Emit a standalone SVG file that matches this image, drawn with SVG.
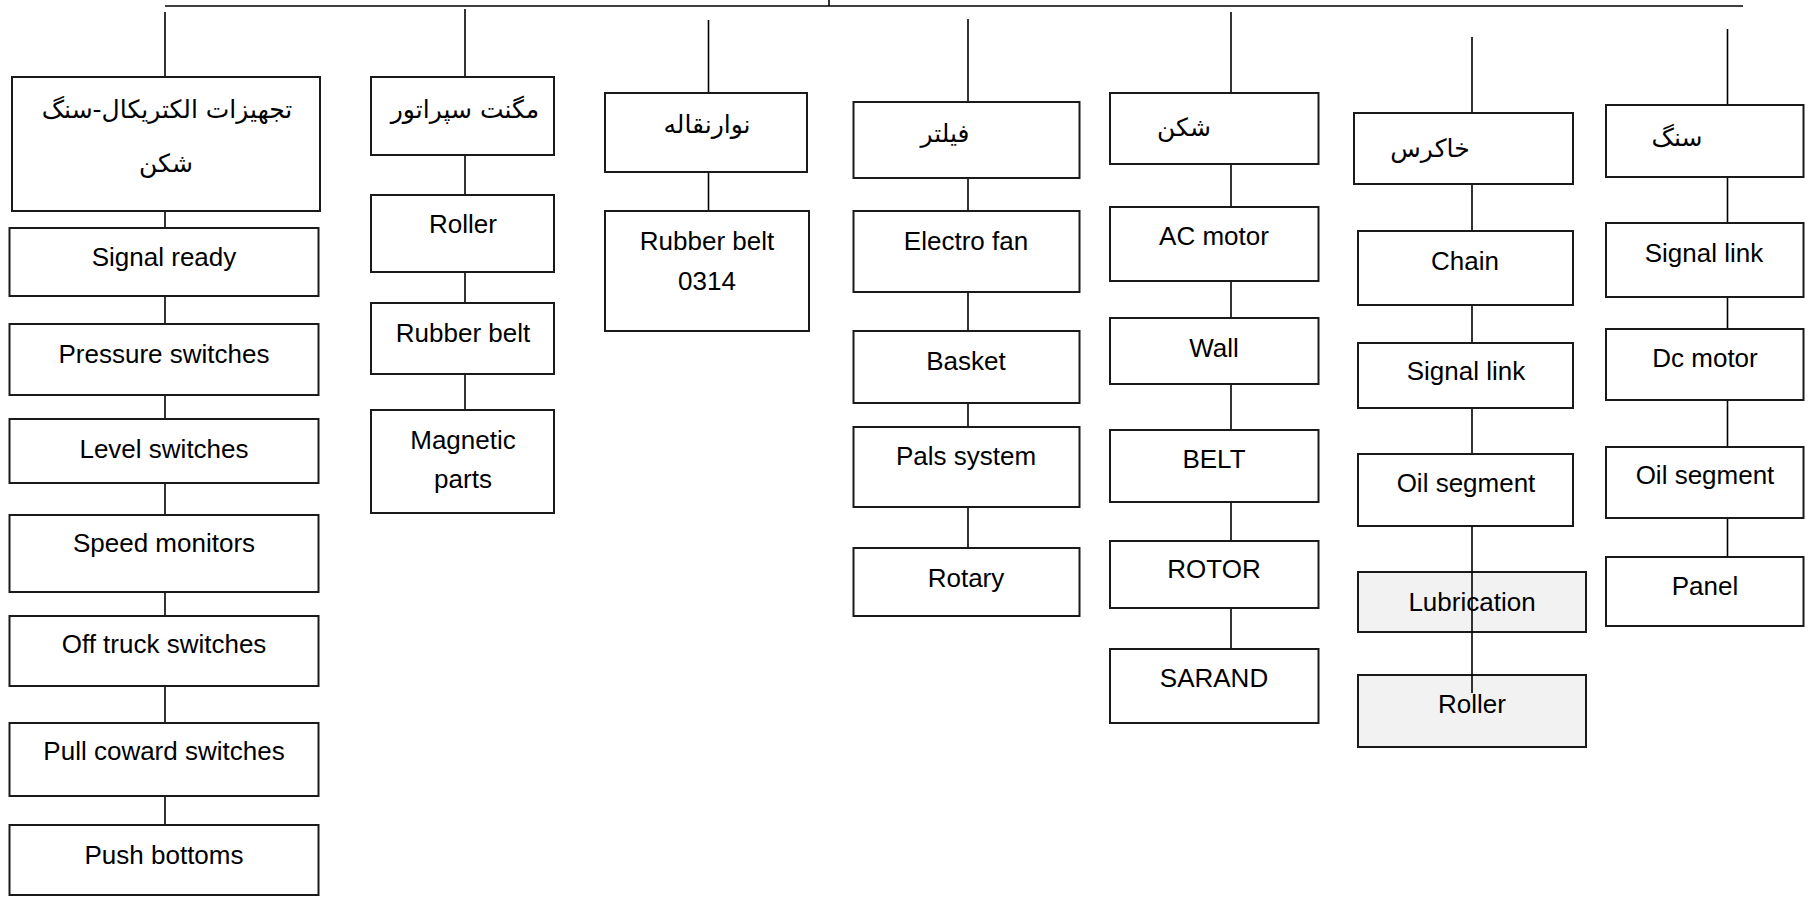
<svg xmlns="http://www.w3.org/2000/svg" width="1810" height="897" viewBox="0 0 1810 897">
<style>
.b{fill:#ffffff;stroke:#1a1a1a;stroke-width:2}
.g{fill:#f2f2f2;stroke:#1a1a1a;stroke-width:2}
.c line{stroke:#000;stroke-width:1.6}
.t{font-family:"Liberation Sans",Arial,sans-serif;font-size:26px;fill:#000;text-anchor:middle}
.a{font-family:"DejaVu Sans",sans-serif;font-size:25px;fill:#000;text-anchor:middle}
</style>
<rect width="1810" height="897" fill="#ffffff"/>
<g id="connectors" class="c">
<line x1="165" y1="6" x2="1743" y2="6"/>
<line x1="829" y1="0" x2="829" y2="6"/>
<line x1="165" y1="12" x2="165" y2="77"/>
<line x1="465" y1="9" x2="465" y2="77"/>
<line x1="708.5" y1="20" x2="708.5" y2="93"/>
<line x1="968" y1="19" x2="968" y2="102"/>
<line x1="1231" y1="12" x2="1231" y2="93"/>
<line x1="1472" y1="37" x2="1472" y2="113"/>
<line x1="1727.5" y1="29" x2="1727.5" y2="105"/>
<line x1="165" y1="211" x2="165" y2="228"/>
<line x1="165" y1="296" x2="165" y2="324"/>
<line x1="165" y1="395" x2="165" y2="419"/>
<line x1="165" y1="483" x2="165" y2="515"/>
<line x1="165" y1="592" x2="165" y2="616"/>
<line x1="165" y1="686" x2="165" y2="723"/>
<line x1="165" y1="796" x2="165" y2="825"/>
<line x1="465" y1="155" x2="465" y2="195"/>
<line x1="465" y1="272" x2="465" y2="303"/>
<line x1="465" y1="374" x2="465" y2="410"/>
<line x1="708.5" y1="172" x2="708.5" y2="211"/>
<line x1="968" y1="178" x2="968" y2="211"/>
<line x1="968" y1="292" x2="968" y2="331"/>
<line x1="968" y1="403" x2="968" y2="427"/>
<line x1="968" y1="507" x2="968" y2="548"/>
<line x1="1231" y1="164" x2="1231" y2="207"/>
<line x1="1231" y1="281" x2="1231" y2="318"/>
<line x1="1231" y1="384" x2="1231" y2="430"/>
<line x1="1231" y1="502" x2="1231" y2="541"/>
<line x1="1231" y1="608" x2="1231" y2="649"/>
<line x1="1472" y1="184" x2="1472" y2="231"/>
<line x1="1472" y1="305" x2="1472" y2="343"/>
<line x1="1472" y1="408" x2="1472" y2="454"/>
<line x1="1727.5" y1="177" x2="1727.5" y2="223"/>
<line x1="1727.5" y1="297" x2="1727.5" y2="329"/>
<line x1="1727.5" y1="400" x2="1727.5" y2="447"/>
<line x1="1727.5" y1="518" x2="1727.5" y2="557"/>
</g>
<g id="n-electrical"><rect class="b" x="12" y="77" width="308" height="134"/><text class="a" x="167" y="118">تجهیزات الکتریکال-سنگ</text><text class="a" x="166" y="172">شکن</text></g>
<g id="n-signal-ready"><rect class="b" x="9.5" y="228" width="309" height="68"/><text class="t" x="164" y="266">Signal ready</text></g>
<g id="n-pressure"><rect class="b" x="9.5" y="324" width="309" height="71"/><text class="t" x="164" y="363">Pressure switches</text></g>
<g id="n-level"><rect class="b" x="9.5" y="419" width="309" height="64"/><text class="t" x="164" y="458">Level switches</text></g>
<g id="n-speed"><rect class="b" x="9.5" y="515" width="309" height="77"/><text class="t" x="164" y="552">Speed monitors</text></g>
<g id="n-offtruck"><rect class="b" x="9.5" y="616" width="309" height="70"/><text class="t" x="164" y="653">Off truck switches</text></g>
<g id="n-pullcoward"><rect class="b" x="9.5" y="723" width="309" height="73"/><text class="t" x="164" y="760">Pull coward switches</text></g>
<g id="n-push"><rect class="b" x="9.5" y="825" width="309" height="70"/><text class="t" x="164" y="864">Push bottoms</text></g>
<g id="n-magnet"><rect class="b" x="371" y="77" width="183" height="78"/><text class="a" x="465" y="118">مگنت سپراتور</text></g>
<g id="n-magnet-roller"><rect class="b" x="371" y="195" width="183" height="77"/><text class="t" x="463" y="233">Roller</text></g>
<g id="n-magnet-rubber"><rect class="b" x="371" y="303" width="183" height="71"/><text class="t" x="463" y="342">Rubber belt</text></g>
<g id="n-magnetic-parts"><rect class="b" x="371" y="410" width="183" height="103"/><text class="t" x="463" y="449">Magnetic</text><text class="t" x="463" y="488">parts</text></g>
<g id="n-conveyor"><rect class="b" x="605" y="93" width="202" height="79"/><text class="a" x="707" y="133">نوارنقاله</text></g>
<g id="n-rubber-0314"><rect class="b" x="605" y="211" width="204" height="120"/><text class="t" x="707" y="250">Rubber belt</text><text class="t" x="707" y="290">0314</text></g>
<g id="n-filter"><rect class="b" x="853.5" y="102" width="226" height="76"/><text class="a" x="945" y="142">فیلتر</text></g>
<g id="n-electro-fan"><rect class="b" x="853.5" y="211" width="226" height="81"/><text class="t" x="966" y="250">Electro fan</text></g>
<g id="n-basket"><rect class="b" x="853.5" y="331" width="226" height="72"/><text class="t" x="966" y="370">Basket</text></g>
<g id="n-pals"><rect class="b" x="853.5" y="427" width="226" height="80"/><text class="t" x="966" y="465">Pals system</text></g>
<g id="n-rotary"><rect class="b" x="853.5" y="548" width="226" height="68"/><text class="t" x="966" y="587">Rotary</text></g>
<g id="n-crusher"><rect class="b" x="1110" y="93" width="208.5" height="71"/><text class="a" x="1184" y="136">شکن</text></g>
<g id="n-ac-motor"><rect class="b" x="1110" y="207" width="208.5" height="74"/><text class="t" x="1214" y="245">AC motor</text></g>
<g id="n-wall"><rect class="b" x="1110" y="318" width="208.5" height="66"/><text class="t" x="1214" y="357">Wall</text></g>
<g id="n-belt"><rect class="b" x="1110" y="430" width="208.5" height="72"/><text class="t" x="1214" y="468">BELT</text></g>
<g id="n-rotor"><rect class="b" x="1110" y="541" width="208.5" height="67"/><text class="t" x="1214" y="578">ROTOR</text></g>
<g id="n-sarand"><rect class="b" x="1110" y="649" width="208.5" height="74"/><text class="t" x="1214" y="687">SARAND</text></g>
<g id="n-clay"><rect class="b" x="1354" y="113" width="219" height="71"/><text class="a" x="1430" y="157">خاکرس</text></g>
<g id="n-chain"><rect class="b" x="1358" y="231" width="215" height="74"/><text class="t" x="1465" y="270">Chain</text></g>
<g id="n-clay-signal"><rect class="b" x="1358" y="343" width="215" height="65"/><text class="t" x="1466" y="380">Signal link</text></g>
<g id="n-clay-oil"><rect class="b" x="1358" y="454" width="215" height="72"/><text class="t" x="1466" y="492">Oil segment</text></g>
<g id="n-lubrication"><rect class="g" x="1358" y="572" width="228" height="60"/><text class="t" x="1472" y="611">Lubrication</text></g>
<g id="n-clay-roller"><rect class="g" x="1358" y="675" width="228" height="72"/><text class="t" x="1472" y="713">Roller</text></g>
<g id="connectors-overlay" class="c"><line x1="1472" y1="526" x2="1472" y2="693"/></g>
<g id="n-stone"><rect class="b" x="1606" y="105" width="197.5" height="72"/><text class="a" x="1677" y="146">سنگ</text></g>
<g id="n-stone-signal"><rect class="b" x="1606" y="223" width="197.5" height="74"/><text class="t" x="1704" y="262">Signal link</text></g>
<g id="n-dc-motor"><rect class="b" x="1606" y="329" width="197.5" height="71"/><text class="t" x="1705" y="367">Dc motor</text></g>
<g id="n-stone-oil"><rect class="b" x="1606" y="447" width="197.5" height="71"/><text class="t" x="1705" y="484">Oil segment</text></g>
<g id="n-panel"><rect class="b" x="1606" y="557" width="197.5" height="69"/><text class="t" x="1705" y="595">Panel</text></g>
</svg>
